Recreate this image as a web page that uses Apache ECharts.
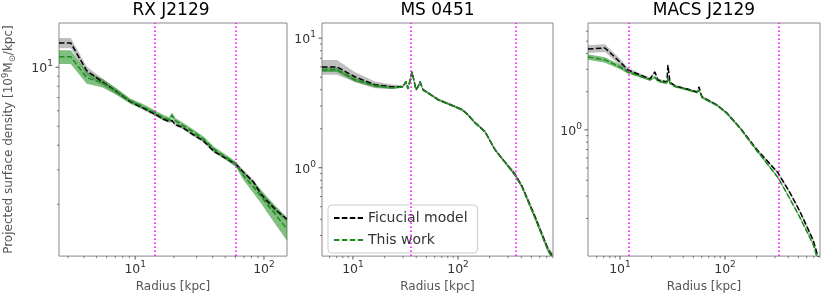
<!DOCTYPE html>
<html><head><meta charset="utf-8">
<script src="https://cdn.jsdelivr.net/npm/echarts@6/dist/echarts.min.js"></script>
<style>html,body{margin:0;padding:0;background:#fff}#c{width:830px;height:298px}</style>
</head><body><div id="c"></div>
<script>
// ---------------- data ----------------
const titles = ['RX J2129', 'MS 0451', 'MACS J2129'];
const seriesNames = ['Ficucial model', 'This work'];

// RX J2129
const r1 = [2.56, 3.16, 4.2, 5.6, 7.2, 9.1, 11.5, 14.3, 16.5, 18.3, 19.3, 20.5, 23, 28, 34, 41, 50, 60.6, 70, 83, 95, 106, 125, 151];
const fid1 = [13.3, 13.3, 9.6, 8.4, 7.5, 6.7, 6.2, 5.75, 5.45, 5.3, 5.35, 5.1, 4.95, 4.55, 4.2, 3.72, 3.45, 3.2, 2.9, 2.6, 2.25, 2.08, 1.86, 1.68];
const fidErr1 = [0.06, 0.06, 0.05, 0.04, 0.03, 0.025, 0.02, 0.02, 0.02, 0.02, 0.02, 0.02, 0.02, 0.02, 0.02, 0.02, 0.02, 0.02, 0.025, 0.025, 0.03, 0.03, 0.03, 0.03];
const work1 = [11.3, 11.3, 8.85, 8.3, 7.5, 6.75, 6.3, 5.85, 5.55, 5.4, 5.7, 5.35, 5.1, 4.7, 4.3, 3.82, 3.5, 3.2, 2.78, 2.45, 2.2, 2.0, 1.75, 1.5];
const workErr1 = [0.08, 0.08, 0.07, 0.05, 0.04, 0.03, 0.03, 0.03, 0.03, 0.03, 0.03, 0.03, 0.03, 0.03, 0.03, 0.03, 0.03, 0.035, 0.05, 0.07, 0.08, 0.09, 0.11, 0.13];
const vlines1 = [14.3, 60];

// MS 0451
const r2 = [5.07, 7.05, 10.4, 16.2, 23.5, 29.9, 32.0, 33.4, 36.5, 39.8, 41.6, 43.5, 46.4, 51.8, 64.6, 80, 93.6, 110, 124, 145, 181, 225, 281, 349, 407, 541, 720, 803];
const fid2 = [6.0, 6.0, 5.04, 4.37, 4.22, 4.22, 4.61, 4.07, 5.5, 4.0, 4.22, 4.61, 4.0, 3.79, 3.35, 3.12, 2.96, 2.8, 2.57, 2.23, 1.90, 1.38, 1.10, 0.89, 0.72, 0.42, 0.235, 0.205];
const fidErr2 = [0.13, 0.13, 0.09, 0.06, 0.04, 0.02, 0.02, 0.02, 0.02, 0.02, 0.02, 0.02, 0.02, 0.02, 0.02, 0.02, 0.02, 0.02, 0.02, 0.02, 0.025, 0.03, 0.03, 0.04, 0.04, 0.05, 0.06, 0.06];
const work2 = [5.7, 5.7, 4.78, 4.3, 4.15, 4.22, 4.61, 4.07, 5.5, 4.0, 4.22, 4.61, 4.0, 3.79, 3.35, 3.12, 2.96, 2.8, 2.57, 2.23, 1.90, 1.38, 1.10, 0.88, 0.71, 0.41, 0.23, 0.2];
const workErr2 = [0.04, 0.04, 0.035, 0.03, 0.025, 0.02, 0.02, 0.02, 0.02, 0.02, 0.02, 0.02, 0.02, 0.02, 0.02, 0.02, 0.02, 0.02, 0.02, 0.02, 0.02, 0.02, 0.02, 0.025, 0.025, 0.03, 0.03, 0.03];
const vlines2 = [35.6, 356];

// MACS J2129
const r3 = [4.96, 7.2, 10, 11.9, 15.5, 19.3, 21.5, 23.0, 28.0, 28.6, 29.9, 33.4, 43.5, 54.1, 56.5, 60.4, 83.9, 104, 139, 202, 215, 320, 416, 518, 689, 769, 803];
const fid3 = [4.34, 4.42, 3.43, 2.97, 2.71, 2.52, 2.86, 2.47, 2.39, 3.25, 2.39, 2.22, 2.10, 1.99, 2.18, 1.82, 1.57, 1.36, 1.04, 0.696, 0.659, 0.458, 0.319, 0.226, 0.136, 0.1, 0.092];
const fidErr3 = [0.07, 0.07, 0.06, 0.04, 0.03, 0.025, 0.025, 0.02, 0.02, 0.02, 0.02, 0.02, 0.02, 0.02, 0.02, 0.02, 0.02, 0.02, 0.02, 0.02, 0.02, 0.025, 0.025, 0.03, 0.03, 0.03, 0.03];
const work3 = [3.76, 3.56, 3.13, 2.86, 2.65, 2.48, 2.6, 2.42, 2.33, 2.6, 2.33, 2.2, 2.08, 1.97, 2.05, 1.8, 1.56, 1.35, 1.03, 0.68, 0.64, 0.42, 0.285, 0.203, 0.126, 0.093, 0.088];
const workErr3 = [0.05, 0.05, 0.04, 0.03, 0.025, 0.02, 0.02, 0.02, 0.02, 0.02, 0.02, 0.02, 0.02, 0.02, 0.02, 0.02, 0.02, 0.02, 0.02, 0.02, 0.02, 0.02, 0.02, 0.02, 0.025, 0.025, 0.025];
const vlines3 = [12.2, 327];

// tick positions
const xTicks1 = [3, 4, 5, 6, 7, 8, 9, 10, 20, 30, 40, 50, 60, 70, 80, 90, 100];
const yTicks1 = [2, 3, 4, 5, 6, 7, 8, 9, 10];
const xTicks2 = [6, 7, 8, 9, 10, 20, 30, 40, 50, 60, 70, 80, 90, 100, 200, 300, 400, 500, 600, 700, 800];
const yTicks2 = [0.3, 0.4, 0.5, 0.6, 0.7, 0.8, 0.9, 1, 2, 3, 4, 5, 6, 7, 8, 9, 10];
const xTicks3 = [6, 7, 8, 9, 10, 20, 30, 40, 50, 60, 70, 80, 90, 100, 200, 300, 400, 500, 600, 700, 800];
const yTicks3 = [0.2, 0.3, 0.4, 0.5, 0.6, 0.7, 0.8, 0.9, 1, 2, 3, 4, 5, 6];
const majorTicks = [0.1, 1, 10, 100, 1000];

// ---------------- layout / style ----------------
const FONT = 'DejaVu Sans';
const grids = [
  { left: 55, top: 23, width: 232, height: 234 },
  { left: 322, top: 23, width: 231, height: 234 },
  { left: 588, top: 23, width: 232, height: 234 }
];
const xRange = [[2.56, 151], [5.07, 803], [4.96, 803]];
const yRange = [[1.09, 16.8], [0.208, 13.1], [0.101, 6.96]];

const panels = [
  { r: r1, fid: fid1, fe: fidErr1, w: work1, we: workErr1, vl: vlines1, xt: xTicks1, yt: yTicks1 },
  { r: r2, fid: fid2, fe: fidErr2, w: work2, we: workErr2, vl: vlines2, xt: xTicks2, yt: yTicks2 },
  { r: r3, fid: fid3, fe: fidErr3, w: work3, we: workErr3, vl: vlines3, xt: xTicks3, yt: yTicks3 }
];

const GRAY_BAND = 'rgba(128,128,128,0.5)';
const GREEN_BAND = 'rgba(0,128,0,0.5)';
const GREEN = '#1f8a1f';
const TXT = '#333';

function powLabel(v) {
  const l = Math.log10(v), n = Math.round(l);
  if (Math.abs(l - n) > 1e-6) return '';
  return '{b|10}{s|' + (n < 0 ? '\u2212' + (-n) : n) + '}';
}
const labelRich = {
  b: { fontFamily: FONT, fontSize: 12.5, color: TXT, lineHeight: 16, verticalAlign: 'bottom' },
  s: { fontFamily: FONT, fontSize: 9, color: TXT, lineHeight: 16, verticalAlign: 'top' }
};

function bandSeries(i, r, v, e, color, z) {
  return {
    type: 'custom', xAxisIndex: i, yAxisIndex: i, silent: true, z: z, clip: true,
    data: [[r[0], v[0]]],
    renderItem: function (p, api) {
      const up = r.map((x, k) => api.coord([x, v[k] * (1 + e[k])]));
      const dn = r.map((x, k) => api.coord([x, v[k] * (1 - e[k])])).reverse();
      return { type: 'polygon', shape: { points: up.concat(dn) }, style: { fill: color } };
    }
  };
}
function lineSeries(i, name, r, v, color, z) {
  return {
    type: 'line', name: name, xAxisIndex: i, yAxisIndex: i, z: z, silent: true,
    data: r.map((x, k) => [x, v[k]]), symbol: 'none', showSymbol: false, clip: true,
    lineStyle: { color: color, width: 1.5, type: [5.5, 2.4] }, itemStyle: { color: color }
  };
}
function tickSeries(i, axis, vals) {
  return {
    type: 'custom', xAxisIndex: i, yAxisIndex: i, silent: true, z: 6, clip: false,
    data: vals.map(v => axis === 'x' ? [v, yRange[i][0]] : [xRange[i][0], v]),
    renderItem: function (p, api) {
      const v = api.value(axis === 'x' ? 0 : 1);
      const pt = api.coord([api.value(0), api.value(1)]);
      const major = majorTicks.some(m => Math.abs(m - v) / m < 1e-6);
      const len = major ? 3.5 : 2;
      const shape = axis === 'x'
        ? { x1: pt[0], y1: pt[1], x2: pt[0], y2: pt[1] + len }
        : { x1: pt[0] - len, y1: pt[1], x2: pt[0], y2: pt[1] };
      return { type: 'line', shape: shape, style: { stroke: '#555', lineWidth: major ? 1 : 0.8 } };
    }
  };
}

const series = [];
panels.forEach((P, i) => {
  series.push(bandSeries(i, P.r, P.fid, P.fe, GRAY_BAND, 1));
  series.push(bandSeries(i, P.r, P.w, P.we, GREEN_BAND, 1));
  series.push({
    type: 'line', xAxisIndex: i, yAxisIndex: i, data: [], z: 2, silent: true,
    markLine: {
      symbol: 'none', silent: true, label: { show: false }, animation: false,
      lineStyle: { color: '#ff00ff', type: [1.5, 2.5], width: 1.5 },
      data: P.vl.map(v => ({ xAxis: v }))
    }
  });
  series.push(lineSeries(i, seriesNames[0], P.r, P.fid, '#000', 3));
  series.push(lineSeries(i, seriesNames[1], P.r, P.w, GREEN, 4));
  series.push(tickSeries(i, 'x', P.xt));
  series.push(tickSeries(i, 'y', P.yt));
});

const option = {
  animation: false,
  backgroundColor: '#fff',
  title: titles.map((t, i) => ({
    text: t, left: grids[i].left + grids[i].width / 2, top: 2, textAlign: 'center', padding: 0,
    textStyle: { fontFamily: FONT, fontSize: 17, fontWeight: 'normal', color: '#000' }
  })),
  grid: grids.map(g => Object.assign({ show: true, borderColor: '#888', borderWidth: 1, backgroundColor: 'transparent', containLabel: false }, g)),
  xAxis: grids.map((g, i) => ({
    type: 'log', logBase: 10, gridIndex: i, min: xRange[i][0], max: xRange[i][1],
    axisLine: { show: false }, axisTick: { show: false }, splitLine: { show: false }, minorTick: { show: false },
    axisLabel: { formatter: powLabel, rich: labelRich, margin: 4, showMinLabel: false, showMaxLabel: false },
    name: 'Radius [kpc]', nameLocation: 'middle', nameGap: 21,
    nameTextStyle: { fontFamily: FONT, fontSize: 12, color: '#555' }
  })),
  yAxis: grids.map((g, i) => ({
    type: 'log', logBase: 10, gridIndex: i, min: yRange[i][0], max: yRange[i][1],
    axisLine: { show: false }, axisTick: { show: false }, splitLine: { show: false }, minorTick: { show: false },
    axisLabel: { formatter: powLabel, rich: labelRich, margin: 6, showMinLabel: false, showMaxLabel: false },
    name: i === 0 ? '{a|Projected surface density [10}{p|9}{a|M}{d|\u2299}{a|/kpc]}' : '',
    nameLocation: 'middle', nameRotate: 90, nameGap: 42,
    nameTextStyle: {
      fontFamily: FONT, fontSize: 12, color: '#555',
      rich: {
        a: { fontFamily: FONT, fontSize: 12, color: '#555', lineHeight: 16, verticalAlign: 'middle' },
        p: { fontFamily: FONT, fontSize: 8.5, color: '#555', lineHeight: 16, verticalAlign: 'top' },
        d: { fontFamily: FONT, fontSize: 8.5, color: '#555', lineHeight: 16, verticalAlign: 'bottom' }
      }
    }
  })),
  legend: {
    left: 328, top: 205, orient: 'vertical', data: seriesNames,
    itemWidth: 29, itemHeight: 12, itemGap: 8, padding: [6, 10, 6, 5],
    itemStyle: { opacity: 0 },
    backgroundColor: 'rgba(255,255,255,0.8)', borderColor: '#ccc', borderWidth: 1, borderRadius: 4,
    textStyle: { fontFamily: FONT, fontSize: 14, color: TXT }, selectedMode: false
  },
  series: series
};

const chart = echarts.init(document.getElementById('c'), null, { renderer: 'canvas' });
chart.setOption(option);
</script>
</body></html>
